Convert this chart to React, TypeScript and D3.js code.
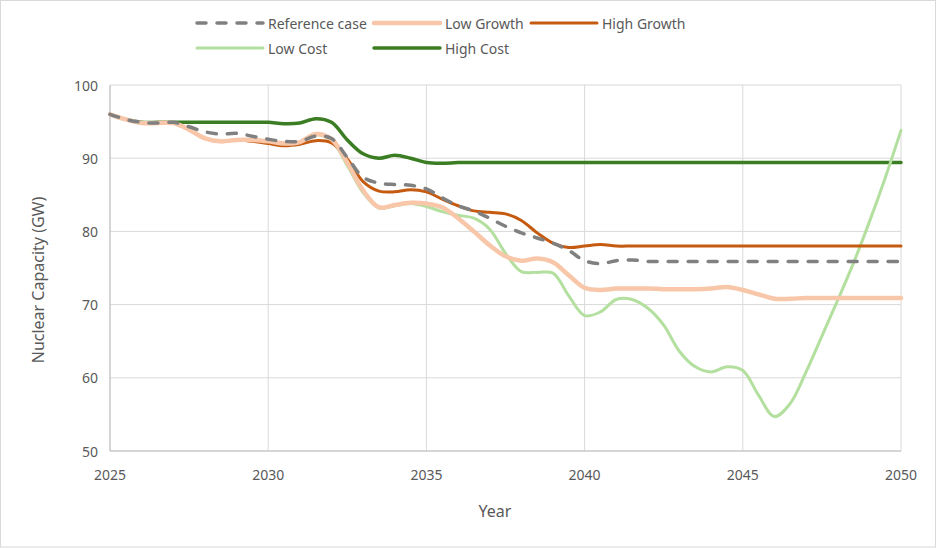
import React from "react";
import * as d3 from "d3";

// Half-year grid, 2025 .. 2050
const years: number[] = Array.from({ length: 51 }, (_, i) => 2025 + i * 0.5);

const referenceCase = [
  96.0, 95.3, 94.9, 94.8, 94.9, 94.3, 93.6, 93.3, 93.4, 93.0,
  92.6, 92.3, 92.3, 93.0, 92.7, 90.1, 87.4, 86.6, 86.4, 86.3,
  85.8, 84.6, 83.5, 82.8, 81.8, 80.7, 79.8, 79.1, 78.4, 77.4,
  76.0, 75.6, 76.0, 76.1, 75.9, 75.9, 75.9, 75.9, 75.9, 75.9,
  75.9, 75.9, 75.9, 75.9, 75.9, 75.9, 75.9, 75.9, 75.9, 75.9, 75.9,
];

const lowGrowth = [
  96.0, 95.3, 94.8, 94.8, 94.8, 93.9, 92.7, 92.3, 92.5, 92.5,
  92.3, 92.0, 92.2, 93.3, 92.6, 89.4, 85.6, 83.3, 83.6, 83.9,
  83.8, 83.3, 81.8, 80.0, 78.1, 76.6, 76.0, 76.3, 75.8, 74.0,
  72.3, 72.0, 72.2, 72.2, 72.2, 72.1, 72.1, 72.1, 72.2, 72.4,
  72.0, 71.4, 70.8, 70.8, 70.9, 70.9, 70.9, 70.9, 70.9, 70.9, 70.9,
];

const highGrowth = [
  96.0, 95.3, 94.8, 94.8, 94.8, 93.9, 92.7, 92.3, 92.5, 92.3,
  92.0, 91.7, 91.9, 92.4, 92.1, 89.9, 86.8, 85.5, 85.4, 85.7,
  85.4, 84.4, 83.5, 82.8, 82.6, 82.4, 81.5, 79.8, 78.4, 77.8,
  78.0, 78.2, 78.0, 78.0, 78.0, 78.0, 78.0, 78.0, 78.0, 78.0,
  78.0, 78.0, 78.0, 78.0, 78.0, 78.0, 78.0, 78.0, 78.0, 78.0, 78.0,
];

const lowCost = [
  96.0, 95.3, 94.8, 94.8, 94.8, 93.9, 92.7, 92.3, 92.5, 92.5,
  92.3, 92.0, 92.2, 93.2, 92.4, 89.0, 85.3, 83.2, 83.5, 83.8,
  83.4, 82.7, 82.2, 81.8, 80.3, 77.0, 74.5, 74.4, 74.3, 71.2,
  68.5, 69.0, 70.7, 70.7, 69.5, 67.2, 63.6, 61.5, 60.8, 61.5,
  61.0, 57.6, 54.7, 56.5, 60.8, 65.7, 70.6, 75.7, 81.3, 87.3, 93.8,
];

const highCost = [
  96.0, 95.3, 94.9, 94.9, 94.9, 94.9, 94.9, 94.9, 94.9, 94.9,
  94.9, 94.7, 94.8, 95.4, 94.9, 92.5, 90.6, 90.0, 90.4, 90.0,
  89.4, 89.3, 89.4, 89.4, 89.4, 89.4, 89.4, 89.4, 89.4, 89.4,
  89.4, 89.4, 89.4, 89.4, 89.4, 89.4, 89.4, 89.4, 89.4, 89.4,
  89.4, 89.4, 89.4, 89.4, 89.4, 89.4, 89.4, 89.4, 89.4, 89.4, 89.4,
];

const xTicks = [2025, 2030, 2035, 2040, 2045, 2050];
const yTicks = [50, 60, 70, 80, 90, 100];

const seriesNames = ["Reference case", "Low Growth", "High Growth", "Low Cost", "High Cost"];

const W = 937;
const H = 548;
const FONT = "'Noto Sans', 'Open Sans', sans-serif";
const TEXT = "#595959";

type Style = { color: string; width: number; dash?: string };
const styles: Record<string, Style> = {
  "Reference case": { color: "#808080", width: 3.5, dash: "9 11" },
  "Low Growth": { color: "#F8C6A8", width: 4.5 },
  "High Growth": { color: "#C55A11", width: 3 },
  "Low Cost": { color: "#B3DF9F", width: 3 },
  "High Cost": { color: "#3A7D22", width: 3.5 },
};

export default function App() {
  const x = d3.scaleLinear().domain([2025, 2050]).range([110, 901]);
  const y = d3.scaleLinear().domain([50, 100]).range([451, 85]);

  const data: Record<string, number[]> = {
    "Reference case": referenceCase,
    "Low Growth": lowGrowth,
    "High Growth": highGrowth,
    "Low Cost": lowCost,
    "High Cost": highCost,
  };

  const line = d3
    .line<number>()
    .x((_, i) => x(years[i]))
    .y((d) => y(d))
    .curve(d3.curveCatmullRom.alpha(0.5));

  const drawOrder = ["High Cost", "Low Cost", "High Growth", "Low Growth", "Reference case"];

  const legendItems = [
    { name: seriesNames[0], lx: 195, ly: 23 },
    { name: seriesNames[1], lx: 372, ly: 23 },
    { name: seriesNames[2], lx: 529, ly: 23 },
    { name: seriesNames[3], lx: 195, ly: 48 },
    { name: seriesNames[4], lx: 372, ly: 48 },
  ];

  return (
    <svg
      width={W}
      height={H}
      style={{ position: "absolute", left: 0, top: 0, background: "#fff" }}
      fontFamily={FONT}
    >
      <rect x={0.5} y={0.5} width={935} height={546.5} fill="#fff" stroke="#D9D9D9" />

      {/* gridlines */}
      {yTicks.map((t) => (
        <line key={"gy" + t} x1={110} x2={901} y1={y(t)} y2={y(t)} stroke="#D9D9D9" strokeWidth={1} />
      ))}
      {xTicks.map((t) => (
        <line key={"gx" + t} x1={x(t)} x2={x(t)} y1={85} y2={451} stroke="#D9D9D9" strokeWidth={1} />
      ))}
      {/* axes */}
      <line x1={110} x2={110} y1={85} y2={451} stroke="#BFBFBF" strokeWidth={1} />
      <line x1={110} x2={901} y1={451} y2={451} stroke="#BFBFBF" strokeWidth={1} />

      {/* tick labels */}
      {yTicks.map((t) => (
        <text key={"ty" + t} x={98} y={y(t)} textAnchor="end" dominantBaseline="central" fontSize={14} fill={TEXT}>
          {t}
        </text>
      ))}
      {xTicks.map((t) => (
        <text key={"tx" + t} x={x(t)} y={474} textAnchor="middle" dominantBaseline="central" fontSize={14} fill={TEXT}>
          {t}
        </text>
      ))}

      {/* axis titles */}
      <text x={495} y={511} textAnchor="middle" dominantBaseline="central" fontSize={16} fill={TEXT}>
        Year
      </text>
      <text
        transform={`translate(38,280) rotate(-90)`}
        textAnchor="middle"
        dominantBaseline="central"
        fontSize={16}
        fill={TEXT}
      >
        Nuclear Capacity (GW)
      </text>

      {/* series */}
      {drawOrder.map((name) => {
        const s = styles[name];
        return (
          <path
            key={name}
            d={line(data[name]) || ""}
            fill="none"
            stroke={s.color}
            strokeWidth={s.width}
            strokeDasharray={s.dash}
            strokeLinecap="round"
            strokeLinejoin="round"
          />
        );
      })}

      {/* legend */}
      {legendItems.map((it) => {
        const s = styles[it.name];
        return (
          <g key={"lg" + it.name}>
            <line
              x1={it.lx + 2}
              x2={it.lx + 68}
              y1={it.ly}
              y2={it.ly}
              stroke={s.color}
              strokeWidth={s.width}
              strokeDasharray={s.dash}
              strokeLinecap="round"
            />
            <text x={it.lx + 73} y={it.ly} dominantBaseline="central" fontSize={14} fill={TEXT}>
              {it.name}
            </text>
          </g>
        );
      })}
    </svg>
  );
}
